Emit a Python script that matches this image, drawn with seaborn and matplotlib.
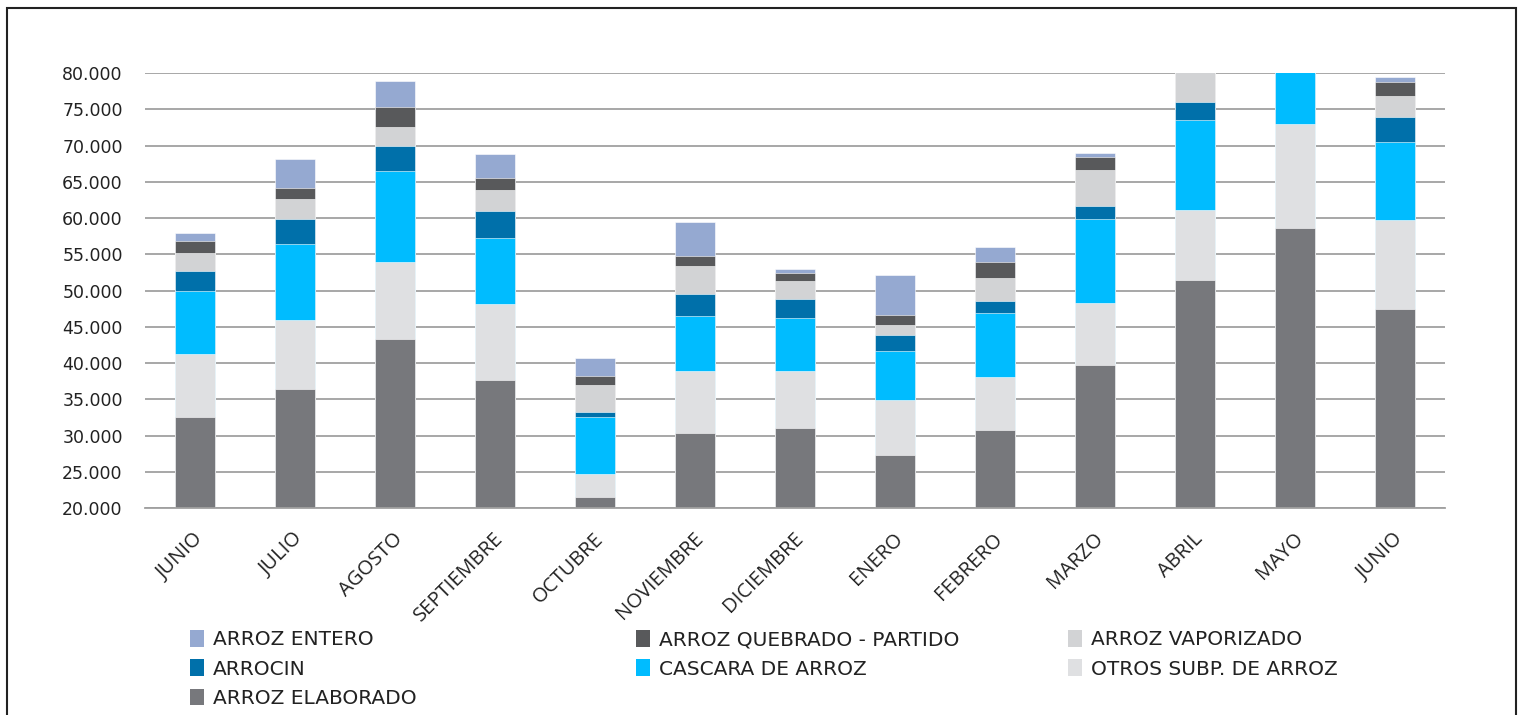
import matplotlib
matplotlib.use("Agg")
import matplotlib.pyplot as plt
import matplotlib.ticker as ticker
from matplotlib.patches import Rectangle, Patch
import seaborn as sns
import pandas as pd
import numpy as np

meses = ["JUNIO", "JULIO", "AGOSTO", "SEPTIEMBRE", "OCTUBRE", "NOVIEMBRE", "DICIEMBRE",
         "ENERO", "FEBRERO", "MARZO", "ABRIL", "MAYO", "JUNIO "]

# valores por serie (apilados de abajo hacia arriba)
arroz_elaborado = [32500, 36450, 43260, 37610, 21470, 30350, 31080, 27260, 30760, 39680, 51450, 58580, 47400]
otros_subp = [8740, 9480, 10670, 10570, 3220, 8590, 7860, 7640, 7310, 8550, 9610, 14440, 12320]
cascara = [8730, 10480, 12510, 9060, 7910, 7540, 7260, 6800, 8830, 11680, 12510, 12000, 10810]
arrocin = [2760, 3450, 3450, 3680, 640, 3030, 2620, 2160, 1660, 1750, 2480, 3000, 3450]
arroz_vaporizado = [2490, 2760, 2620, 2900, 3680, 3820, 2480, 1330, 3170, 4920, 4600, 4000, 2900]
arroz_quebrado = [1610, 1470, 2760, 1740, 1290, 1470, 1150, 1430, 2210, 1890, 2000, 2000, 1930]
arroz_entero = [1150, 4050, 3680, 3310, 2480, 4640, 460, 5520, 2020, 550, 1500, 1500, 600]

series = ["ARROZ ELABORADO", "OTROS SUBP. DE ARROZ", "CASCARA DE ARROZ", "ARROCIN",
          "ARROZ VAPORIZADO", "ARROZ QUEBRADO - PARTIDO", "ARROZ ENTERO"]
valores = [arroz_elaborado, otros_subp, cascara, arrocin, arroz_vaporizado, arroz_quebrado, arroz_entero]
colores = ["#77787c", "#dfe0e2", "#00bcff", "#0070aa", "#d2d3d5", "#58595b", "#95a9d1"]

# tabla larga con acumulados para dibujar cada segmento como barra completa
filas = []
acum = np.zeros(len(meses))
for nombre, vals in zip(series, valores):
    acum = acum + np.array(vals)
    for mes, tope in zip(meses, acum):
        filas.append({"MES": mes, "SERIE": nombre, "TOPE": tope})
df = pd.DataFrame(filas)

sns.set_style("white")
fig = plt.figure(figsize=(15.24, 7.15), dpi=100)
ax = fig.add_axes([0.0951, 0.2895, 0.853, 0.6084])

# dibujar de arriba (mayor acumulado) hacia abajo para que se vea el apilado
for nombre, color in reversed(list(zip(series, colores))):
    sns.barplot(data=df[df["SERIE"] == nombre], x="MES", y="TOPE", order=meses,
                color=color, width=0.4, edgecolor="white", linewidth=0.4,
                saturation=1, ax=ax, zorder=3)

ax.set_ylim(20000, 80000)
ax.set_xlim(-0.5, len(meses) - 0.5)
ax.yaxis.set_major_locator(ticker.MultipleLocator(5000))
ax.yaxis.set_major_formatter(ticker.FuncFormatter(lambda v, p: f"{v:,.0f}".replace(",", ".")))
ax.grid(axis="y", color="#a0a0a0", linewidth=1.3, zorder=0)
ax.set_axisbelow(True)
for lado in ["top", "right", "left"]:
    ax.spines[lado].set_visible(False)
ax.spines["bottom"].set_color("#a0a0a0")
ax.spines["bottom"].set_linewidth(1.3)
ax.spines["bottom"].set_zorder(4)

ax.set_xlabel("")
ax.set_ylabel("")
ax.tick_params(axis="y", length=0, pad=16, labelsize=12.5, labelcolor="#222222")
ax.tick_params(axis="x", which="major", length=0, pad=15)
ax.set_xticks(np.arange(len(meses)) - 0.02)
ax.set_xticklabels([m.strip() for m in meses], rotation=45, ha="right", va="top",
                   rotation_mode="anchor", fontsize=14.5, fontfamily="Open Sans", color="#222222")
ax.set_xticks(np.arange(-0.5, len(meses), 1), minor=True)
ax.tick_params(axis="x", which="minor", length=6, width=1.3, color="#a0a0a0", direction="out")

# leyenda en 3 columnas, una leyenda por columna
mapa = dict(zip(series, colores))
columnas = [
    (190, ["ARROZ ENTERO", "ARROCIN", "ARROZ ELABORADO"]),
    (636, ["ARROZ QUEBRADO - PARTIDO", "CASCARA DE ARROZ"]),
    (1068, ["ARROZ VAPORIZADO", "OTROS SUBP. DE ARROZ"]),
]
for x_px, nombres in columnas:
    handles = [Patch(facecolor=mapa[n], edgecolor="none", label=n) for n in nombres]
    leg = fig.legend(handles=handles, loc="upper left",
                     bbox_to_anchor=(x_px / 1524, 1 - 630 / 715),
                     frameon=False, borderpad=0, borderaxespad=0,
                     handlelength=0.7, handleheight=0.9, handletextpad=0.45,
                     labelspacing=0.5, prop={"family": "DejaVu Sans", "size": 14.5})
    for t in leg.get_texts():
        t.set_color("#222222")

# marco de la imagen
fig.add_artist(Rectangle((7 / 1524, -0.1), 1509 / 1524, 1 - 8 / 715 + 0.1,
                         transform=fig.transFigure, fill=False,
                         edgecolor="#222222", linewidth=1.5))

fig.savefig("out.png", dpi=100)
plt.close(fig)
